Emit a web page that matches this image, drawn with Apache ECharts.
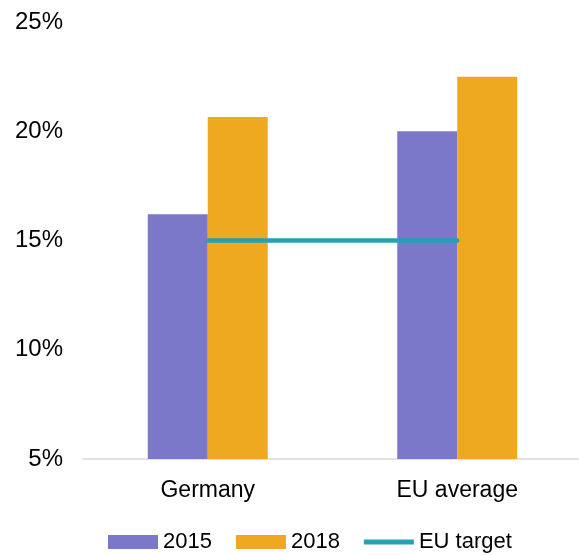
<!DOCTYPE html>
<html>
<head>
<meta charset="utf-8">
<script src="https://cdn.jsdelivr.net/npm/echarts@6/dist/echarts.min.js"></script>
<style>
  html, body { margin: 0; padding: 0; background: #fff; }
  #chart { width: 579px; height: 555px; }
</style>
</head>
<body>
<div id="chart"></div>
<script>
const categories = ['Germany', 'EU average'];
const values2015 = [16.2, 20.0];
const values2018 = [20.65, 22.5];
const euTarget = [15, 15];

const chart = echarts.init(document.getElementById('chart'));

const font = 'Liberation Sans, Arial, sans-serif';

chart.setOption({
  animation: false,
  backgroundColor: '#fff',
  grid: { left: 83, top: 22, width: 499, height: 437, containLabel: false, outerBoundsMode: 'none' },
  legend: {
    left: 108,
    top: 531,
    padding: 0,
    itemWidth: 50,
    itemHeight: 14,
    itemGap: 24,
    textStyle: { fontFamily: font, fontSize: 22, color: '#000' },
    data: [
      { name: '2015', icon: 'rect' },
      { name: '2018', icon: 'rect' },
      // thin bar in the middle of the 14px box, like the line key
      { name: 'EU target', icon: 'path://M0,4.5h50v5h-50z M0,0h0.01v14h-0.01z' }
    ]
  },
  xAxis: {
    type: 'category',
    data: categories,
    axisLine: { lineStyle: { color: '#d9d9d9', width: 1.5 } },
    axisTick: { show: false },
    axisLabel: { fontFamily: font, fontSize: 23, color: '#000', margin: 20 }
  },
  yAxis: {
    type: 'value',
    min: 5,
    max: 25,
    interval: 5,
    splitLine: { show: false },
    axisLine: { show: false },
    axisTick: { show: false },
    axisLabel: {
      fontFamily: font, fontSize: 24, color: '#000', margin: 20,
      formatter: v => v + '%'
    }
  },
  series: [
    {
      name: '2015',
      type: 'bar',
      data: values2015,
      barWidth: 60,
      barGap: '0%',
      itemStyle: { color: '#7b77c9' }
    },
    {
      name: '2018',
      type: 'bar',
      data: values2018,
      barWidth: 60,
      barGap: '0%',
      itemStyle: { color: '#efa920' }
    },
    {
      name: 'EU target',
      type: 'line',
      data: euTarget,
      symbol: 'none',
      lineStyle: { color: '#26a1b3', width: 4.5, cap: 'round' },
      itemStyle: { color: '#26a1b3' }
    }
  ]
});
</script>
</body>
</html>
